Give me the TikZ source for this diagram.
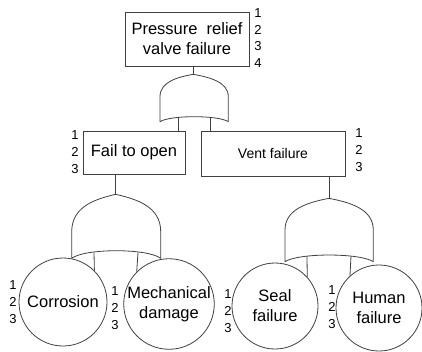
\documentclass[tikz,border=0pt]{standalone}
\usepackage{fontspec}
\setmainfont{Liberation Sans}
\begin{document}
\begin{tikzpicture}[x=1pt,y=-1pt,
  ln/.style={draw=black!75,line width=0.8pt},
  evbox/.style={ln,rectangle,inner sep=0pt,align=center,font=\fontsize{16.5}{20}\selectfont},
  evcirc/.style={ln,circle,inner sep=0pt,align=center,font=\fontsize{16.5}{20}\selectfont},
  nums/.style={inner sep=0pt,align=center,font=\fontsize{13}{16.8}\selectfont},
  gate/.style={ln,line join=round}]
\useasboundingbox (0,0) rectangle (422,351);
% boxes
\node[evbox,minimum width=124pt,minimum height=54pt] (top) at (187,39) {Pressure\ \ relief\\valve failure};
\node[evbox,minimum width=102pt,minimum height=43pt] (fail) at (134,152.5) {Fail to open};
\node[evbox,minimum width=144pt,minimum height=45pt,font=\fontsize{14}{17}\selectfont] (vent) at (273,153.5) {Vent failure};
% circles
\node[evcirc,minimum size=88pt] (corr) at (63,302) {Corrosion};
\node[evcirc,minimum size=88pt] (mech) at (169,304) {Mechanical\\damage};
\node[evcirc,minimum size=86pt] (seal) at (275,306) {Seal\\failure};
\node[evcirc,minimum size=86pt] (human) at (379,308) {Human\\failure};
% number labels
\node[nums] (ntop) at (258,38) {1\\2\\3\\4};
\node[nums] (nfail) at (75,152) {1\\2\\3};
\node[nums] (nvent) at (359,150) {1\\2\\3};
\node[nums] (ncorr) at (13,302) {1\\2\\3};
\node[nums] (nmech) at (115,308) {1\\2\\3};
\node[nums] (nseal) at (228,311) {1\\2\\3};
\node[nums] (nhuman) at (332,307) {1\\2\\3};
% gates
\coordinate (g0) at (193.3,74.3);
\coordinate (g1) at (115.7,194.3);
\coordinate (g2) at (329,198.3);
\draw[gate] (160,121.7) -- (160,96.7) .. controls (160,81.7) and (177.6,77.2) .. (g0)
  .. controls (208.9,77.2) and (228.3,81.7) .. (228.3,96.7) -- (228.3,121.7)
  .. controls (218.1,115) and (170.2,115) .. (160,121.7) -- cycle;
\draw[gate] (71.7,258.3) -- (71.7,231.7) .. controls (71.7,206.6) and (95,199.2) .. (g1)
  .. controls (136.9,199.2) and (160.7,206.6) .. (160.7,231.7) -- (160.7,258.3)
  .. controls (147.3,248.2) and (85.1,248.2) .. (71.7,258.3) -- cycle;
\draw[gate] (285,261.7) -- (285,230) .. controls (285,208.8) and (308.3,202.4) .. (g2)
  .. controls (349.7,202.4) and (373.3,208.8) .. (373.3,230) -- (373.3,261.7)
  .. controls (360.1,252.8) and (298.2,252.8) .. (285,261.7) -- cycle;
% gate input points
\coordinate (g0a) at (178,117.5);
\coordinate (g0b) at (210,117.5);
\coordinate (g1a) at (94,252.5);
\coordinate (g1b) at (138,252.5);
\coordinate (g2a) at (307,256);
\coordinate (g2b) at (351,256);
% connectors
\draw[ln] (top.south -| g0) -- (g0);
\draw[ln] (g0a) -- (g0a |- fail.north);
\draw[ln] (g0b) -- (g0b |- vent.north);
\draw[ln] (fail.south -| g1) -- (g1);
\draw[ln] (g1a) -- (corr.45);
\draw[ln] (g1b) -- (mech.135);
\draw[ln] (vent.south -| g2) -- (g2);
\draw[ln] (g2a) -- (seal.42);
\draw[ln] (g2b) -- (human.132);
\end{tikzpicture}
\end{document}
